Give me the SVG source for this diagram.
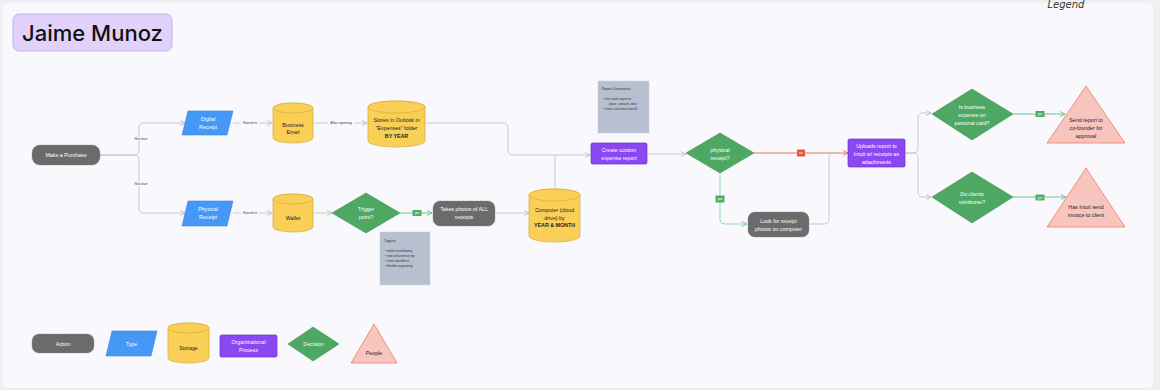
<svg xmlns="http://www.w3.org/2000/svg" width="1160" height="390" viewBox="0 0 1160 390">
<defs>
<marker id="ag" viewBox="0 0 6 6" refX="5.5" refY="3" markerWidth="6" markerHeight="6" markerUnits="userSpaceOnUse" orient="auto"><path d="M0.5,0.5 L5.5,3 L0.5,5.5" fill="none" stroke="#b8b8bd" stroke-width="0.8"/></marker>
<marker id="agr" viewBox="0 0 6 6" refX="5.5" refY="3" markerWidth="6" markerHeight="6" markerUnits="userSpaceOnUse" orient="auto"><path d="M0.5,0.5 L5.5,3 L0.5,5.5" fill="none" stroke="#5cc27f" stroke-width="0.8"/></marker>
<marker id="arr" viewBox="0 0 6 6" refX="5.5" refY="3" markerWidth="6" markerHeight="6" markerUnits="userSpaceOnUse" orient="auto"><path d="M0.5,0.5 L5.5,3 L0.5,5.5" fill="none" stroke="#e8674a" stroke-width="0.8"/></marker>
</defs>
<style>
text{font-family:"Liberation Sans",Arial,sans-serif;text-anchor:middle}
.t{font-size:5.3px;fill:#fff}
.d{font-size:5.3px;fill:#222}
.b{font-weight:bold}
.lbl{font-size:3.6px;fill:#444}
.yes{font-size:3px;fill:#fff}
.action{fill:#6b6b6b;stroke:#8a8a8a;stroke-width:0.6;stroke-dasharray:1.5 1}
.type{fill:#4598f5;stroke:#3a86e0;stroke-width:0.6}
.store{fill:#f9cf56;stroke:#d9ac3c;stroke-width:0.7}
.org{fill:#8b47f2;stroke:#6c31cf;stroke-width:0.7}
.dec{fill:#4ea864;stroke:#3d9152;stroke-width:0.6}
.ppl{fill:#f7c5bd;stroke:#ea7f68;stroke-width:0.8}
.note{fill:#b7c0d0;stroke:#c9d0dc;stroke-width:0.5}
.nt{font-size:3.2px;fill:#333;text-anchor:start}
.c{fill:none;stroke:#c4c4c9;stroke-width:0.9}
.cg{fill:none;stroke:#5cc27f;stroke-width:0.9}
.cgl{fill:none;stroke:#9bdab0;stroke-width:1}
.cr{fill:none;stroke:#e8674a;stroke-width:0.9}
.lb{fill:#f8f8fd}
</style>
<rect x="0" y="0" width="1160" height="390" fill="#efeff2"/>
<rect x="2" y="3" width="1151" height="385" rx="6" fill="#f8f8fd"/>

<g id="title">
<rect x="13" y="14" width="159" height="37" rx="6" fill="#e1d1fb" stroke="#bba5e6" stroke-width="0.8"/>
<text x="92.5" y="41" style="font-size:22px;font-family:Inter,'Liberation Sans',sans-serif;font-weight:500;fill:#111">Jaime Munoz</text>
</g>
<g id="legend-title"><text x="1066" y="8" style="font-size:10px;font-style:italic;font-family:'DejaVu Sans',sans-serif;fill:#333">Legend</text></g>

<g id="connectors">
<path class="c" d="M100,155 H134 Q139,155 139,150 V128 Q139,123 144,123 H185" marker-end="url(#ag)"/>
<path class="c" d="M100,155 H134 Q139,155 139,160 V208 Q139,213 144,213 H185" marker-end="url(#ag)"/>
<rect class="lb" x="132" y="137" width="17" height="4"/>
<text class="lbl" x="141" y="140.3">Receive</text>
<rect class="lb" x="132" y="182" width="17" height="4"/>
<text class="lbl" x="141" y="185.3">Receive</text>
<path class="c" d="M233,123 H272" marker-end="url(#ag)"/>
<rect class="lb" x="241" y="121" width="18" height="4"/>
<text class="lbl" x="250" y="124.3">Stored in</text>
<path class="c" d="M313,123 H367" marker-end="url(#ag)"/>
<rect class="lb" x="328" y="121" width="26" height="4"/>
<text class="lbl" x="341" y="124.3">After opening</text>
<path class="c" d="M425,123 H503 Q508,123 508,128 V150 Q508,155 513,155 H590" marker-end="url(#ag)"/>
<path class="c" d="M555,189 V155"/>
<path class="c" d="M233,213 H272" marker-end="url(#ag)"/>
<rect class="lb" x="241" y="211" width="18" height="4"/>
<text class="lbl" x="250" y="214.3">Stored in</text>
<path class="c" d="M313,213 H332" marker-end="url(#ag)"/>
<path class="cg" d="M400,213 H432" marker-end="url(#agr)"/>
<rect x="412.5" y="210" width="9" height="6" fill="#4caf68"/>
<text class="yes" x="417" y="214">yes</text>
<path class="c" d="M495,213 H529" marker-end="url(#ag)"/>
<path class="c" d="M647,154 H686" marker-end="url(#ag)"/>
<path class="cr" d="M754,153 H848" marker-end="url(#arr)"/>
<rect x="797" y="149.5" width="8" height="7" fill="#e25a3d"/>
<text class="yes" x="801" y="154">no</text>
<path class="cgl" d="M720,173 V219 Q720,224 725,224 H747" marker-end="url(#agr)"/>
<rect x="715.5" y="195.5" width="9" height="7" fill="#4caf68"/>
<text class="yes" x="720" y="200">yes</text>
<path class="c" d="M809,224 H824 Q829,224 829,219 V158 Q829,153 834,153 H840"/>
<path class="c" d="M905,153 H913 Q918,153 918,148 V118 Q918,113 923,113 H931" marker-end="url(#ag)"/>
<path class="c" d="M905,153 H913 Q918,153 918,158 V192 Q918,197 923,197 H931" marker-end="url(#ag)"/>
<path class="cg" d="M1013,114 H1065" marker-end="url(#agr)"/>
<rect x="1035.5" y="111" width="9" height="6" fill="#4caf68"/>
<text class="yes" x="1040" y="115">yes</text>
<path class="cg" d="M1013,197 H1066" marker-end="url(#agr)"/>
<rect x="1035.5" y="194.5" width="9" height="6" fill="#4caf68"/>
<text class="yes" x="1040" y="198.5">yes</text>
</g>

<g id="make-purchase">
<rect class="action" x="32" y="145" width="68" height="20" rx="8"/>
<text class="t" x="66" y="157">Make a Purchase</text>
</g>
<g id="digital-receipt">
<polygon class="type" points="188,111 233,111 227,135 182,135"/>
<text class="t" x="208" y="121">Digital</text>
<text class="t" x="208" y="129">Receipt</text>
</g>
<g id="business-email">
<path class="store" d="M273,108 V138 A20,5 0 0 0 313,138 V108 A20,5 0 0 0 273,108 Z"/>
<ellipse class="store" cx="293" cy="108" rx="20" ry="5"/>
<text class="d" x="293" y="127">Business</text>
<text class="d" x="293" y="134">Email</text>
</g>
<g id="outlook">
<path class="store" d="M368,107 V141 A28.5,6 0 0 0 425,141 V107 A28.5,6 0 0 0 368,107 Z"/>
<ellipse class="store" cx="396.5" cy="107" rx="28.5" ry="6"/>
<text class="d" x="396.5" y="122">Stores in Outlook in</text>
<text class="d" x="396.5" y="130">"Expenses" folder</text>
<text class="d b" x="396.5" y="138">BY YEAR</text>
</g>
<g id="physical-receipt">
<polygon class="type" points="188,201 233,201 227,226 182,226"/>
<text class="t" x="208" y="211">Physical</text>
<text class="t" x="208" y="219">Receipt</text>
</g>
<g id="wallet">
<path class="store" d="M273,199 V227 A20,5 0 0 0 313,227 V199 A20,5 0 0 0 273,199 Z"/>
<ellipse class="store" cx="293" cy="199" rx="20" ry="5"/>
<text class="d" x="293" y="220">Wallet</text>
</g>
<g id="trigger-point">
<polygon class="dec" points="366,193 400,213 366,233 332,213"/>
<text class="t" x="366" y="211">Trigger</text>
<text class="t" x="366" y="219">point?</text>
</g>
<g id="triggers-note">
<rect class="note" x="380" y="232" width="50" height="53"/>
<text class="nt" x="384" y="242">Triggers</text>
<text class="nt" x="385" y="252">•  wallet overflowing</text>
<text class="nt" x="385" y="257">•  end of business trip</text>
<text class="nt" x="385" y="262">•  client deadlines</text>
<text class="nt" x="385" y="267">•  flexible organizing</text>
</g>
<g id="takes-photos">
<rect class="action" x="433" y="201" width="62" height="25" rx="7"/>
<text class="t" x="464" y="211">Takes photos of ALL</text>
<text class="t" x="464" y="219">receipts</text>
</g>
<g id="computer">
<path class="store" d="M529,195 V236 A25.5,6 0 0 0 580,236 V195 A25.5,6 0 0 0 529,195 Z"/>
<ellipse class="store" cx="554.5" cy="195" rx="25.5" ry="6"/>
<text class="d" x="554.5" y="212">Computer (cloud</text>
<text class="d" x="554.5" y="220">drive) by</text>
<text class="d b" x="554.5" y="227">YEAR &amp; MONTH</text>
</g>
<g id="report-note">
<rect class="note" x="598" y="81" width="51" height="52"/>
<text class="nt" x="602" y="90">Report Components</text>
<text class="nt" x="603" y="100">•  lists each expense</text>
<text class="nt" x="607" y="105">◦  place, amount, date</text>
<text class="nt" x="603" y="110">•  client calculates total $</text>
</g>
<g id="create-report">
<rect class="org" x="591" y="143" width="56" height="21" rx="1.5"/>
<text class="t" x="619" y="152">Create custom</text>
<text class="t" x="619" y="160">expense report</text>
</g>
<g id="physical-receipt-q">
<polygon class="dec" points="720,133 754,153 720,173 686,153"/>
<text class="t" x="720" y="152">physical</text>
<text class="t" x="720" y="160">receipt?</text>
</g>
<g id="look-receipt">
<rect class="action" x="748" y="212" width="61" height="25" rx="7"/>
<text class="t" x="778.5" y="223">Look for receipt</text>
<text class="t" x="778.5" y="231">photos on computer</text>
</g>
<g id="uploads">
<rect class="org" x="848" y="139" width="57" height="28" rx="1.5"/>
<text class="t" x="876.5" y="148">Uploads report to</text>
<text class="t" x="876.5" y="156">Intuit w/ receipts as</text>
<text class="t" x="876.5" y="164">attachments</text>
</g>
<g id="personal-card">
<polygon class="dec" points="972,89 1013,114 972,140 932,114"/>
<text class="t" x="972" y="109">Is business</text>
<text class="t" x="972" y="117">expense on</text>
<text class="t" x="972" y="125">personal card?</text>
</g>
<g id="clients-reimburse">
<polygon class="dec" points="972,172 1013,197 972,223 932,197"/>
<text class="t" x="972" y="196">Do clients</text>
<text class="t" x="972" y="204">reimburse?</text>
</g>
<g id="send-report">
<polygon class="ppl" points="1086,86 1125,143 1047,143"/>
<text class="d" x="1086" y="122">Send report to</text>
<text class="d" x="1086" y="130">co-founder for</text>
<text class="d" x="1086" y="138">approval</text>
</g>
<g id="send-invoice">
<polygon class="ppl" points="1086,168 1125,227 1047,227"/>
<text class="d" x="1086" y="209">Has Intuit send</text>
<text class="d" x="1086" y="217">invoice to client</text>
</g>

<g id="legend-action">
<rect class="action" x="32" y="334" width="62" height="19" rx="7"/>
<text class="t" x="63" y="346">Action</text>
</g>
<g id="legend-type">
<polygon class="type" points="112,331 157,331 151,356 106,356"/>
<text class="t" x="131.5" y="346">Type</text>
</g>
<g id="legend-storage">
<path class="store" d="M168,328 V358 A20.5,5 0 0 0 209,358 V328 A20.5,5 0 0 0 168,328 Z"/>
<ellipse class="store" cx="188.5" cy="328" rx="20.5" ry="5"/>
<text class="d" x="188.5" y="350">Storage</text>
</g>
<g id="legend-org">
<rect class="org" x="220" y="335" width="57" height="22" rx="1.5"/>
<text class="t" x="248.5" y="344">Organizational</text>
<text class="t" x="248.5" y="352">Process</text>
</g>
<g id="legend-decision">
<polygon class="dec" points="313,327 339,344 313,361 288,344"/>
<text class="t" x="313.5" y="346">Decision</text>
</g>
<g id="legend-people">
<polygon class="ppl" points="374,324 397,363 351,363"/>
<text class="d" x="374" y="355">People</text>
</g>
</svg>
